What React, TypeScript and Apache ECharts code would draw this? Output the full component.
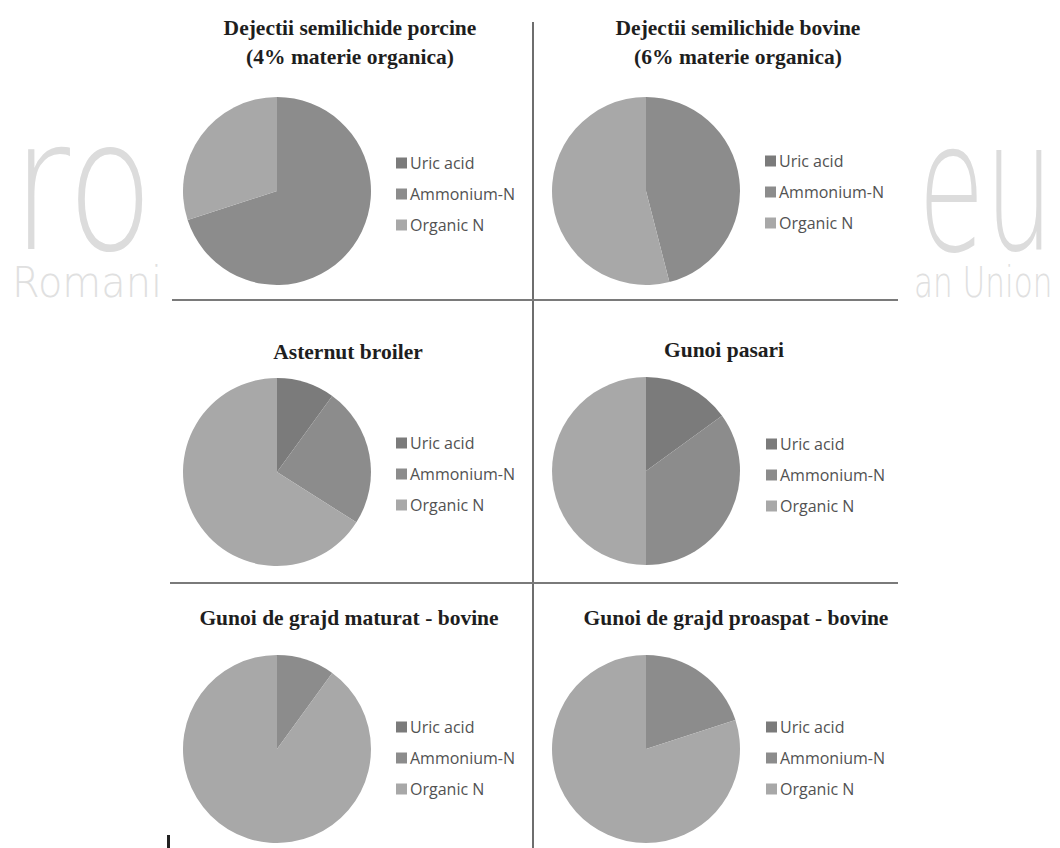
import React, { useEffect, useRef } from "react";
import * as echarts from "echarts";

const categories = ["Uric acid", "Ammonium-N", "Organic N"];

const titles = [
  ["Dejectii semilichide porcine", "(4% materie organica)"],
  ["Dejectii semilichide bovine", "(6% materie organica)"],
  ["Asternut broiler"],
  ["Gunoi pasari"],
  ["Gunoi de grajd maturat - bovine"],
  ["Gunoi de grajd proaspat - bovine"],
];

// percent of total N: [Uric acid, Ammonium-N, Organic N]
const pigSlurry = [0, 70, 30];
const cattleSlurry = [0, 46, 54];
const broilerLitter = [10, 24, 66];
const poultryManure = [15, 35, 50];
const matureCattleManure = [0, 10, 90];
const freshCattleManure = [0, 20, 80];

const seriesValues = [
  pigSlurry,
  cattleSlurry,
  broilerLitter,
  poultryManure,
  matureCattleManure,
  freshCattleManure,
];

const sliceColors = ["#7b7b7b", "#8c8c8c", "#a8a8a8"];

// layout per panel
const panels = [
  { pie: [277, 191], legend: [391, 150], title: [350, [28, 57]] },
  { pie: [646, 191], legend: [760, 148], title: [738, [28, 57]] },
  { pie: [277, 472], legend: [391, 430], title: [348, [352]] },
  { pie: [646, 471], legend: [761, 431], title: [724, [350]] },
  { pie: [277, 749], legend: [391, 714], title: [349, [618]] },
  { pie: [646, 749], legend: [761, 714], title: [736, [618]] },
];

export default function App() {
  const ref = useRef<HTMLDivElement>(null);

  useEffect(() => {
    if (!ref.current) return;
    const chart = echarts.init(ref.current, null, { renderer: "svg" });

    const series = seriesValues.map((vals, i) => ({
      type: "pie",
      name: titles[i].join(" "),
      center: panels[i].pie,
      radius: 94,
      startAngle: 90,
      clockwise: true,
      label: { show: false },
      labelLine: { show: false },
      emphasis: { disabled: true },
      itemStyle: { borderWidth: 0 },
      data: categories.map((c, k) => ({ name: c, value: vals[k] })),
      z: 3,
    }));

    const legends = panels.map((p) => ({
      data: categories,
      orient: "vertical",
      left: p.legend[0],
      top: p.legend[1],
      icon: "rect",
      itemWidth: 11,
      itemHeight: 11,
      itemGap: 15,
      selectedMode: false,
      textStyle: {
        fontFamily: "Open Sans",
        fontSize: 16,
        color: "#525252",
        padding: [0, 0, 0, -2],
      },
    }));

    const titleTexts: any[] = [];
    titles.forEach((lines, i) => {
      const [cx, ys] = panels[i].title as [number, number[]];
      lines.forEach((t, j) => {
        titleTexts.push({
          type: "text",
          z: 10,
          style: {
            text: t,
            x: cx,
            y: ys[j],
            align: "center",
            textAlign: "center",
            verticalAlign: "middle",
            textVerticalAlign: "middle",
            fontFamily: "Liberation Serif",
            fontWeight: "bold",
            fontSize: 21.5,
            fill: "#1e1e1e",
          },
        });
      });
    });

    const wmStyle = {
      fontFamily: "DejaVu Sans",
      fontWeight: 200,
      fill: "#dcdcdc",
      textVerticalAlign: "bottom",
      verticalAlign: "bottom",
    };

    const watermark = [
      {
        type: "text",
        z: 0,
        scaleX: 0.78,
        x: 12,
        y: 0,
        style: { ...wmStyle, text: "ro", x: 0, y: 277, fontSize: 181 },
      },
      {
        type: "text",
        z: 0,
        scaleX: 0.95,
        x: 12,
        y: 0,
        style: {
          ...wmStyle,
          text: "Romania in the European Union",
          x: 0,
          y: 304,
          fontSize: 42,
          fill: "#e0e0e0",
        },
      },
      {
        type: "text",
        z: 0,
        scaleX: 0.6,
        x: 918,
        y: 0,
        style: { ...wmStyle, text: "eu", x: 0, y: 277, fontSize: 181 },
      },
      {
        type: "text",
        z: 0,
        scaleX: 0.74,
        x: 914,
        y: 0,
        style: {
          ...wmStyle,
          text: "an Union",
          x: 0,
          y: 304,
          fontSize: 42,
          fill: "#e0e0e0",
        },
      },
      {
        type: "rect",
        z: 1,
        shape: { x: 160, y: 0, width: 753, height: 848 },
        style: { fill: "#ffffff" },
      },
    ];

    const dividers = [
      {
        type: "line",
        z: 10,
        shape: { x1: 533, y1: 22, x2: 533, y2: 848 },
        style: { stroke: "#6e6e6e", lineWidth: 2 },
      },
      {
        type: "line",
        z: 10,
        shape: { x1: 172, y1: 300, x2: 898, y2: 300 },
        style: { stroke: "#7a7a7a", lineWidth: 2 },
      },
      {
        type: "line",
        z: 10,
        shape: { x1: 170, y1: 583, x2: 898, y2: 583 },
        style: { stroke: "#7a7a7a", lineWidth: 2 },
      },
      {
        type: "rect",
        z: 10,
        shape: { x: 167, y: 835, width: 3, height: 13 },
        style: { fill: "#222222" },
      },
    ];

    chart.setOption({
      animation: false,
      backgroundColor: "#ffffff",
      color: sliceColors,
      tooltip: { show: false },
      legend: legends,
      graphic: { elements: [...watermark, ...dividers, ...titleTexts] },
      series,
    });

    return () => chart.dispose();
  }, []);

  return (
    <div style={{ position: "fixed", left: 0, top: 0, width: 1060, height: 848 }}>
      <div ref={ref} style={{ width: 1060, height: 848 }} />
    </div>
  );
}
